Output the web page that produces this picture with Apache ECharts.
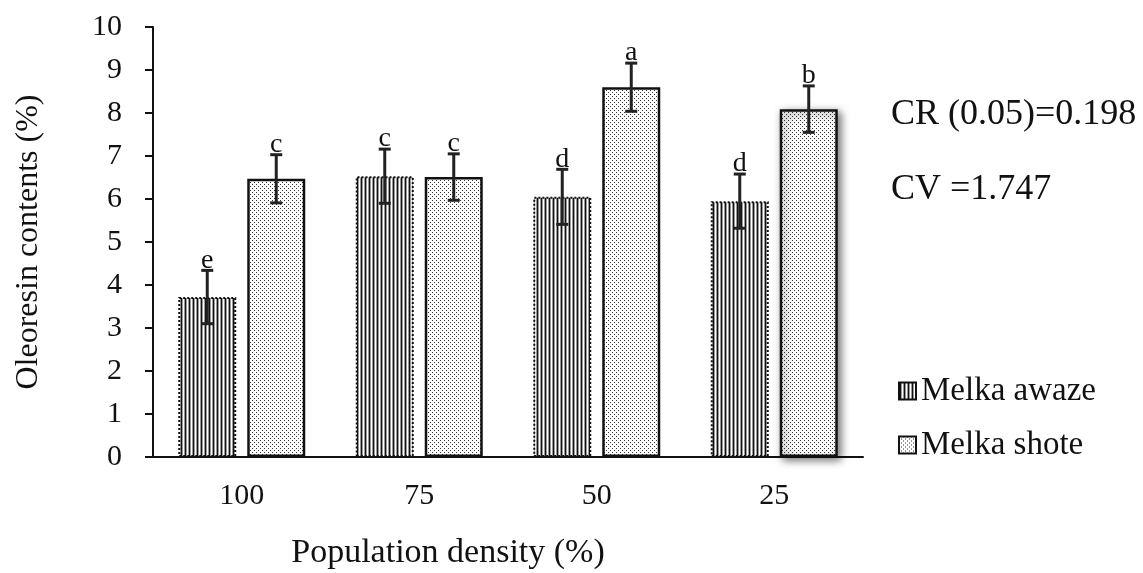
<!DOCTYPE html>
<html>
<head>
<meta charset="utf-8">
<script src="https://cdn.jsdelivr.net/npm/echarts@6/dist/echarts.min.js"></script>
<style>
  html, body { margin: 0; padding: 0; background: #fff; }
  #chart { width: 1143px; height: 573px; }
</style>
</head>
<body>
<div id="chart"></div>
<script>
var categories = ['100', '75', '50', '25'];
var awazeValues = [3.72, 6.53, 6.05, 5.95];
var awazeErr = [0.62, 0.63, 0.64, 0.63];
var awazeLetters = ['e', 'c', 'd', 'd'];
var shoteValues = [6.47, 6.51, 8.6, 8.09];
var shoteErr = [0.56, 0.54, 0.56, 0.54];
var shoteLetters = ['c', 'c', 'a', 'b'];
var yTicks = [0, 1, 2, 3, 4, 5, 6, 7, 8, 9, 10];

var FONT = '"Liberation Serif", "DejaVu Serif", serif';
var BAR_W = 58;
var GAP = 11;

// vertical stripe fill
function stripePattern() {
    var c = document.createElement('canvas');
    c.width = 4; c.height = 4;
    var ctx = c.getContext('2d');
    ctx.fillStyle = '#fff'; ctx.fillRect(0, 0, 4, 4);
    ctx.fillStyle = '#999'; ctx.fillRect(0, 0, 1, 4); ctx.fillRect(2, 0, 1, 4);
    ctx.fillStyle = '#111'; ctx.fillRect(1, 0, 1, 4);
    return c;
}
// dotted fill
function dotPattern() {
    var c = document.createElement('canvas');
    c.width = 4; c.height = 4;
    var ctx = c.getContext('2d');
    ctx.fillStyle = '#fff'; ctx.fillRect(0, 0, 4, 4);
    ctx.fillStyle = '#333'; ctx.fillRect(0, 0, 1, 1); ctx.fillRect(2, 2, 1, 1);
    return c;
}

var stripe = { image: stripePattern(), repeat: 'repeat' };
var dots = { image: dotPattern(), repeat: 'repeat' };

function errorSeries(values, errs, letters, sign) {
    var data = values.map(function (v, i) { return [i, v - errs[i], v + errs[i]]; });
    return {
        type: 'custom',
        silent: true,
        z: 10,
        data: data,
        renderItem: function (params, api) {
            var off = sign * (BAR_W + GAP) / 2;
            var lo = api.coord([api.value(0), api.value(1)]);
            var hi = api.coord([api.value(0), api.value(2)]);
            var x = lo[0] + off;
            var cap = 6;
            var st = { stroke: '#222', lineWidth: 3 };
            return {
                type: 'group',
                children: [
                    { type: 'line', shape: { x1: x, y1: lo[1], x2: x, y2: hi[1] }, style: st },
                    { type: 'line', shape: { x1: x - cap, y1: lo[1], x2: x + cap, y2: lo[1] }, style: st },
                    { type: 'line', shape: { x1: x - cap, y1: hi[1], x2: x + cap, y2: hi[1] }, style: st },
                    { type: 'text', style: { x: x, y: hi[1] + 4, text: letters[params.dataIndex], fill: '#111',
                        font: '28px ' + FONT, align: 'center', verticalAlign: 'bottom' } }
                ]
            };
        }
    };
}

var shoteData = shoteValues.map(function (v, i) {
    if (i === 3) {
        return { value: v, itemStyle: { shadowBlur: 8, shadowColor: 'rgba(0,0,0,0.55)', shadowOffsetX: 3, shadowOffsetY: 3 } };
    }
    return v;
});

var myChart = echarts.init(document.getElementById('chart'));
var option = {
    backgroundColor: '#fff',
    animation: false,
    textStyle: { fontFamily: FONT },
    grid: { left: 153, right: 280, top: 27, bottom: 116 },
    legend: {
        orient: 'vertical',
        left: 893,
        top: 368,
        itemGap: 18,
        itemWidth: 17,
        itemHeight: 17,
        icon: 'rect',
        textStyle: { fontSize: 33, lineHeight: 36, color: '#111', fontFamily: FONT },
        data: ['Melka awaze', 'Melka shote']
    },
    xAxis: {
        type: 'category',
        data: categories,
        axisLine: { lineStyle: { color: '#111', width: 2 } },
        axisTick: { show: false },
        axisLabel: { color: '#111', fontSize: 30, margin: 24, fontFamily: FONT }
    },
    yAxis: {
        type: 'value',
        min: 0,
        max: yTicks[yTicks.length - 1],
        interval: 1,
        name: 'Oleoresin contents (%)',
        nameLocation: 'middle',
        nameGap: 108,
        nameTextStyle: { fontSize: 32, color: '#111', fontFamily: FONT },
        axisLine: { show: true, lineStyle: { color: '#111', width: 2 } },
        axisTick: { show: true, length: 8, lineStyle: { color: '#111', width: 2 } },
        axisLabel: { color: '#111', fontSize: 30, margin: 31, fontFamily: FONT },
        splitLine: { show: false }
    },
    series: [
        {
            name: 'Melka awaze',
            type: 'bar',
            barWidth: BAR_W,
            barGap: (GAP / BAR_W * 100) + '%',
            itemStyle: { color: stripe, borderColor: '#111', borderWidth: 2, borderType: 'dotted' },
            data: awazeValues
        },
        {
            name: 'Melka shote',
            type: 'bar',
            barWidth: BAR_W,
            itemStyle: { color: dots, borderColor: '#111', borderWidth: 2.5 },
            data: shoteData
        },
        errorSeries(awazeValues, awazeErr, awazeLetters, -1),
        errorSeries(shoteValues, shoteErr, shoteLetters, 1)
    ],
    graphic: [
        { type: 'text', x: 891, y: 115, style: { text: 'CR (0.05)=0.198', font: '36px ' + FONT, fill: '#111', verticalAlign: 'middle' } },
        { type: 'text', x: 891, y: 190, style: { text: 'CV =1.747', font: '36px ' + FONT, fill: '#111', verticalAlign: 'middle' } },
        { type: 'text', x: 448, y: 553, style: { text: 'Population density (%)', font: '34px ' + FONT, fill: '#111', align: 'center', verticalAlign: 'middle' } }
    ]
};
myChart.setOption(option);
</script>
</body>
</html>
